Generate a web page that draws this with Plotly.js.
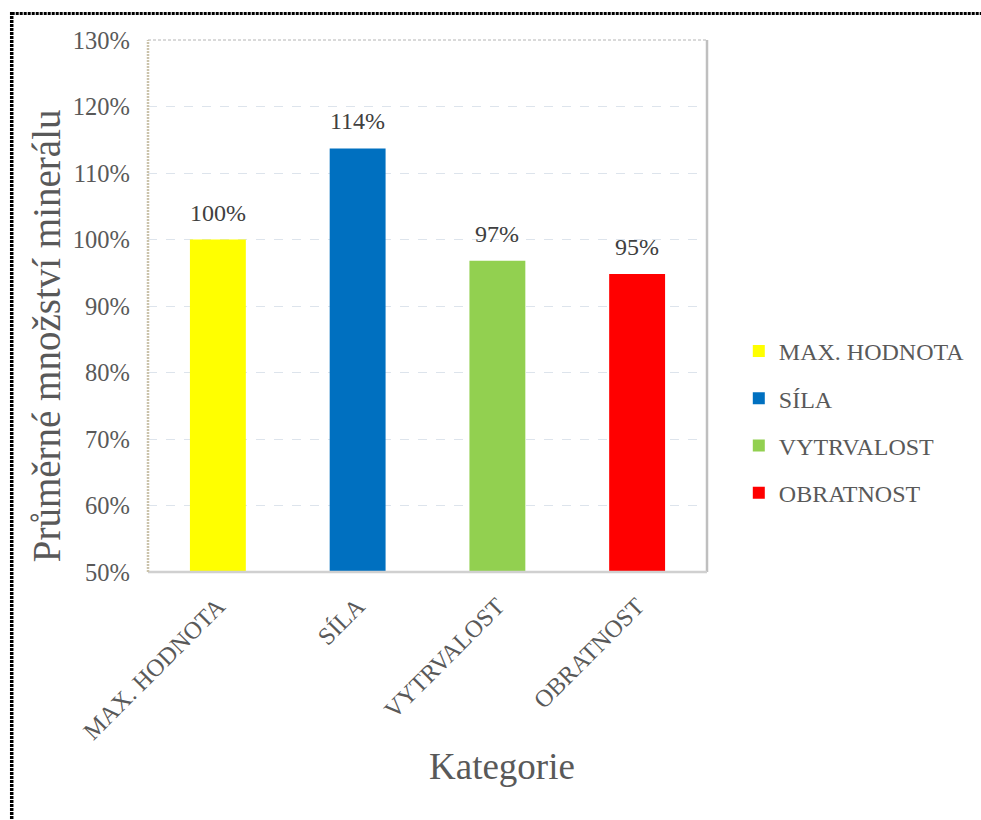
<!DOCTYPE html>
<html>
<head>
<meta charset="utf-8">
<script src="https://cdn.plot.ly/plotly-3.0.1.min.js"></script>
<style>
  html, body { margin: 0; padding: 0; background: #ffffff; }
  #chart { width: 981px; height: 820px; }
</style>
</head>
<body>
<div id="chart"></div>
<script>
// Category names, average mineral share (1 = 100 %) and bar colours
const categories = ['MAX. HODNOTA', 'SÍLA', 'VYTRVALOST', 'OBRATNOST'];
const values = [1.000, 1.137, 0.968, 0.948];
const colors = ['#FFFF00', '#0070C0', '#92D050', '#FF0000'];
const yTitle = 'Průměrné množství minerálu';
const xTitle = 'Kategorie';

const SERIF = 'Liberation Serif, serif';
const GREY = '#595959';

// one trace per category so every bar gets its own legend entry
const traces = categories.map((c, i) => ({
  type: 'bar',
  name: c,
  x: [c],
  y: [values[i]],
  width: 0.4,
  marker: { color: colors[i], line: { width: 0 } },
  legendgroup: 'g' + i,
  hoverinfo: 'skip'
}));

// value labels above the bars
const labels = categories.map((c, i) => ({
  x: c, y: values[i], xref: 'x', yref: 'y',
  text: Math.round(values[i] * 100) + '%',
  showarrow: false, yanchor: 'middle', yshift: 27,
  font: { family: SERIF, size: 24, color: '#404040' }
}));

const titles = [
  { text: yTitle, xref: 'paper', yref: 'paper', x: -0.182, y: 0.4436,
    xanchor: 'center', yanchor: 'middle', textangle: -90, showarrow: false,
    font: { family: SERIF, size: 39, color: GREY } },
  { text: xTitle, xref: 'paper', yref: 'paper', x: 0.634, y: -0.3647,
    xanchor: 'center', yanchor: 'middle', showarrow: false,
    font: { family: SERIF, size: 37, color: GREY } }
];

// frame of the plot area and the dotted outer border
const shapes = [
  { type: 'line', xref: 'paper', yref: 'paper', x0: 0, x1: 1, y0: 1, y1: 1,
    line: { color: '#b4b4b4', width: 1, dash: '3px,2px' } },
  { type: 'line', xref: 'paper', yref: 'paper', x0: 1, x1: 1, y0: 0, y1: 1,
    line: { color: '#bfbfbf', width: 2.5 } },
  { type: 'line', xref: 'paper', yref: 'paper', x0: 0, x1: 1, y0: 0, y1: 0,
    line: { color: '#d0d0d0', width: 2.5 } },
  { type: 'line', xref: 'paper', yref: 'paper', x0: 0, x1: 0, y0: 0, y1: 1,
    line: { color: '#cbc3ab', width: 2.5, dash: '2px,1px' } },
  { type: 'line', xref: 'paper', yref: 'paper', x0: -0.2438, x1: 1.52, y0: 1.0498, y1: 1.0498,
    line: { color: '#000000', width: 3, dash: '3px,1px' } },
  { type: 'line', xref: 'paper', yref: 'paper', x0: -0.2438, x1: -0.2438, y0: 1.0526, y1: -0.5,
    line: { color: '#000000', width: 3.5, dash: '3px,1px' } }
];

const layout = {
  width: 981, height: 820,
  margin: { l: 148, r: 273, t: 40, b: 248 },
  paper_bgcolor: '#ffffff', plot_bgcolor: '#ffffff',
  barmode: 'overlay',
  showlegend: true,
  legend: {
    x: 1.055, xanchor: 'left', y: 0.282, yanchor: 'middle',
    font: { family: SERIF, size: 24, color: GREY },
    tracegroupgap: 13, bgcolor: 'rgba(0,0,0,0)'
  },
  xaxis: {
    type: 'category', categoryorder: 'array', categoryarray: categories,
    showgrid: false, showline: false, zeroline: false, ticks: '',
    tickangle: -45, ticklabelstandoff: 14,
    tickfont: { family: SERIF, size: 24.5, color: GREY },
    fixedrange: true
  },
  yaxis: {
    range: [0.5, 1.3], dtick: 0.1, tick0: 0.5, tickformat: '.0%',
    showgrid: true, gridcolor: '#dde4ec', gridwidth: 1, griddash: 'dash',
    showline: false, zeroline: false, ticks: '', ticklabelstandoff: 17,
    tickfont: { family: SERIF, size: 24.5, color: GREY },
    fixedrange: true
  },
  annotations: labels.concat(titles),
  shapes: shapes
};

Plotly.newPlot('chart', traces, layout, { displayModeBar: false, staticPlot: true });
</script>
</body>
</html>
